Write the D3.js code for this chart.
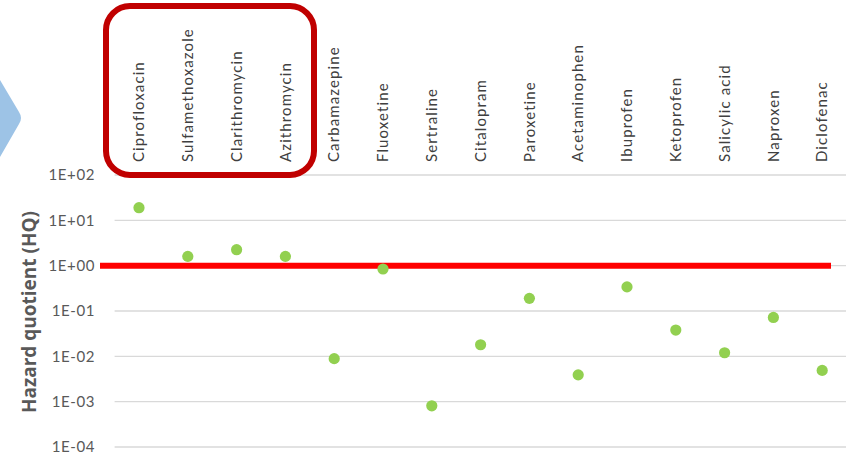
<!DOCTYPE html>
<html><head><meta charset="utf-8">
<script src="https://cdn.jsdelivr.net/npm/d3@7"></script>
<style>body{margin:0;background:#fff;} svg{display:block;}</style>
</head><body>
<svg id="c" width="846" height="462"></svg>
<script>
const categories = ["Ciprofloxacin","Sulfamethoxazole","Clarithromycin","Azithromycin","Carbamazepine","Fluoxetine","Sertraline","Citalopram","Paroxetine","Acetaminophen","Ibuprofen","Ketoprofen","Salicylic acid","Naproxen","Diclofenac"];
const hqValues = [19, 1.6, 2.25, 1.6, 0.0089, 0.845, 0.00081, 0.018, 0.19, 0.0039, 0.34, 0.038, 0.012, 0.072, 0.0049];
const tickValues = [1e-4, 1e-3, 1e-2, 1e-1, 1, 10, 100];
const tickLabels = ["1E-04","1E-03","1E-02","1E-01","1E+00","1E+01","1E+02"];
const threshold = [1];
const yTitle = "Hazard quotient (HQ)";

const svg = d3.select("#c");
const plot = {left: 114.6, right: 846.6, top: 175, bottom: 447};

const x = d3.scaleBand().domain(categories).range([plot.left, plot.right]);
const y = d3.scaleLog().domain([1e-4, 1e2]).range([plot.bottom, plot.top]);

// blue decorative chevron
svg.append("path")
  .attr("d", "M0,80 L19,112 Q23,118 19,124 L0,157 Z")
  .attr("fill", "#9DC3E6");

// gridlines
svg.append("g").selectAll("line").data(tickValues).join("line")
  .attr("x1", plot.left).attr("x2", plot.right)
  .attr("y1", d => y(d)).attr("y2", d => y(d))
  .attr("stroke", "#D9D9D9").attr("stroke-width", 1.3);

// y axis tick labels
const yAxis = d3.axisLeft(y).tickValues(tickValues)
  .tickFormat((d, i) => tickLabels[i]).tickSize(0).tickPadding(0);
const ya = svg.append("g").attr("transform", "translate(95,0)").call(yAxis);
ya.select(".domain").remove();
ya.selectAll("text").attr("font-family", "Lato, 'Open Sans', sans-serif")
  .attr("font-size", 15).attr("letter-spacing", "0.6px").attr("fill", "#595959");

// y title
svg.append("text")
  .attr("transform", "translate(36,312) rotate(-90)")
  .attr("text-anchor", "middle")
  .attr("font-family", "'Open Sans', Lato, sans-serif")
  .attr("font-weight", "bold").attr("font-size", 19)
  .attr("fill", "#595959").text(yTitle);

// category labels at top
const xAxis = d3.axisTop(x).tickSize(0).tickPadding(0);
const xa = svg.append("g").attr("transform", "translate(0,162)").call(xAxis);
xa.select(".domain").remove();
xa.selectAll("text")
  .attr("transform", "rotate(-90)")
  .attr("text-anchor", "start")
  .attr("x", 0).attr("y", 0).attr("dy", "0.35em")
  .attr("font-family", "Lato, 'Open Sans', sans-serif")
  .attr("font-size", 15).attr("letter-spacing", "1.1px").attr("fill", "#404040");

// threshold line
svg.append("g").selectAll("line").data(threshold).join("line")
  .attr("x1", 100).attr("x2", 831)
  .attr("y1", d => y(d)).attr("y2", d => y(d))
  .attr("stroke", "#FF0000").attr("stroke-width", 6);

// points
svg.append("g").selectAll("circle").data(hqValues).join("circle")
  .attr("cx", (d, i) => x(categories[i]) + x.bandwidth() / 2)
  .attr("cy", d => y(d))
  .attr("r", 5.6).attr("fill", "#92D050");

// highlight box around first four labels
svg.append("rect")
  .attr("x", 106).attr("y", 6).attr("width", 208).attr("height", 169)
  .attr("rx", 24).attr("ry", 24)
  .attr("fill", "none").attr("stroke", "#C00000").attr("stroke-width", 6);
</script>
</body></html>
